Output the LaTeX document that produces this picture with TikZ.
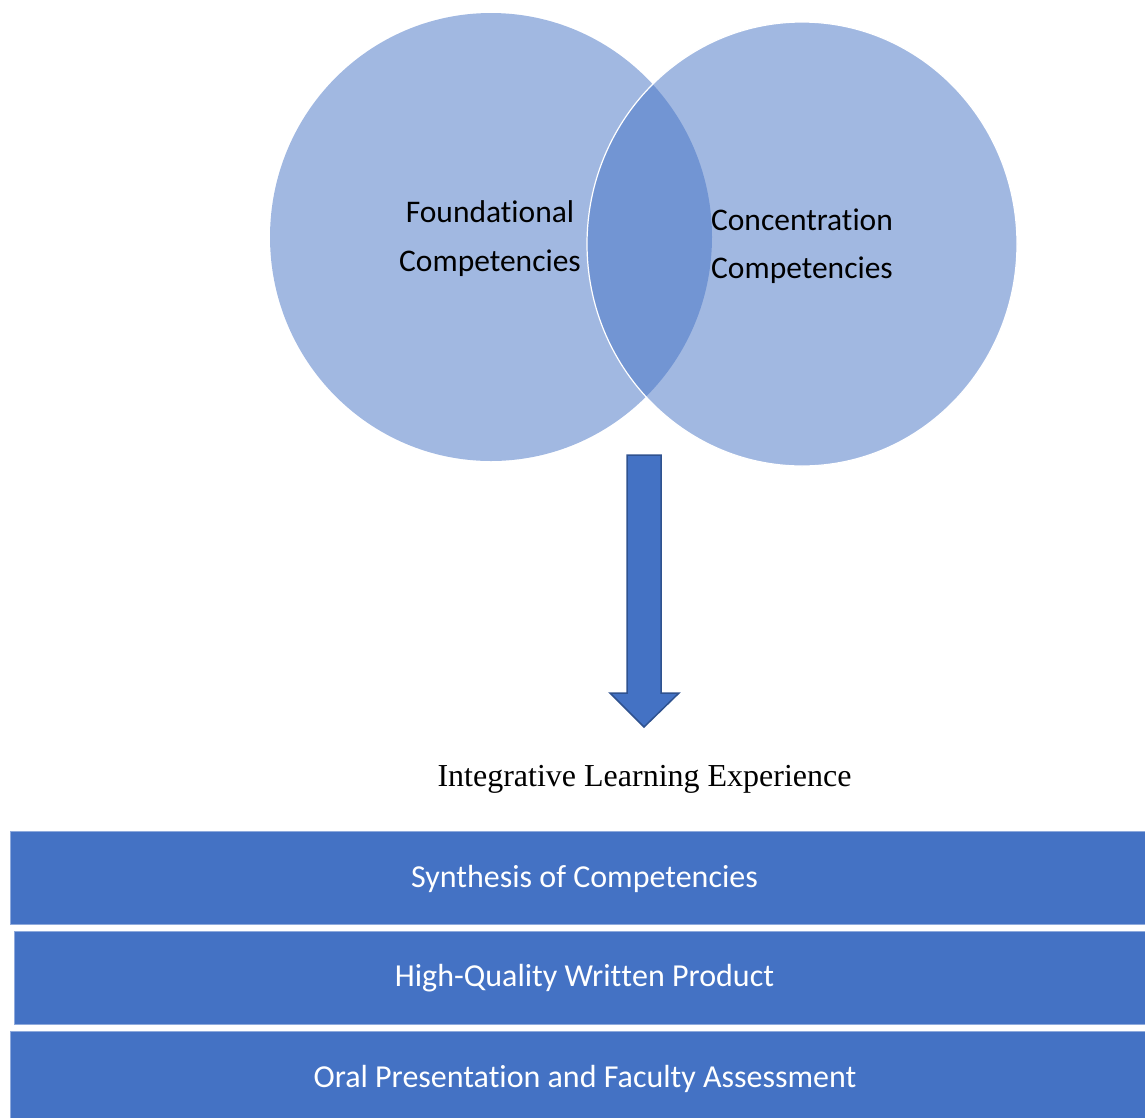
\documentclass[tikz,border=0pt]{standalone}
\usepackage{fontspec}
\setmainfont[Ligatures={NoCommon,NoContextual}]{Carlito}
\newfontfamily\timesfont{Liberation Serif}
\newcommand{\nl}{\kern0pt{}}
\definecolor{accent}{HTML}{4472C4}
\definecolor{accentdark}{HTML}{2F528F}
\definecolor{barline}{HTML}{8FAADC}
\begin{document}
\begin{tikzpicture}[x=1pt,y=-1pt,
  venn/.style={fill=accent,fill opacity=0.5,draw=white,line width=1.2pt},
  ctext/.style={anchor=base,font=\fontsize{31.5}{36}\selectfont,text=black,inner sep=0pt},
  bartext/.style={anchor=base,font=\fontsize{32}{38}\selectfont,text=white,inner sep=0pt},
  barbox/.style={fill=accent,draw=barline,line width=0.8pt},
  bigarrow/.style={fill=accent,draw=accentdark,line width=1.5pt,line join=miter}]
\useasboundingbox (0,0) rectangle (1145,1117);
% Venn circles
\path[venn,draw=none] (491,237) ellipse [x radius=221, y radius=224];
\path[venn] (802,244) ellipse [x radius=215, y radius=222];
\node[ctext] (f1) at (490,222) {Foundational};
\node[ctext] (f2) at (490,271) {Competencies};
\node[ctext] (c1) at (802,230) {Concentrat\nl ion};
\node[ctext] (c2) at (802,278) {Competencies};
% arrow
\draw[bigarrow] (627,455) -- (661,455) -- (661,693) -- (679,693) -- (644,727) -- (610,693) -- (627,693) -- cycle;
% title
\node[anchor=base,inner sep=0pt,font=\timesfont\fontsize{32}{38}\selectfont] (ile) at (644.5,786) {Integrative Learning Experience};
% bars
\path[barbox] (10,831) rectangle (1146,924);
\path[barbox] (14,931) rectangle (1146,1024);
\path[barbox] (10,1031) rectangle (1146,1118);
\node[bartext] (s) at (584.5,887) {Synthesis of Competencies};
\node[bartext] (h) at (584.5,986) {High-Quality Writ\nl t\nl en Product};
\node[bartext] (o) at (585,1087) {Oral Presentat\nl ion and Faculty Assessment};
\end{tikzpicture}
\end{document}
